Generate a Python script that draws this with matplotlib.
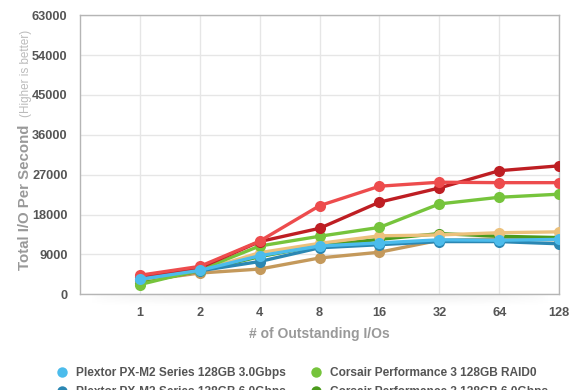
import matplotlib
matplotlib.use("Agg")
from matplotlib import pyplot as plt
import numpy as np

plt.rcParams['font.family'] = ['Liberation Sans', 'DejaVu Sans']

queue_depths = ['1', '2', '4', '8', '16', '32', '64', '128']
y_ticks = [0, 9000, 18000, 27000, 36000, 45000, 54000, 63000]

# IOPS
tan_dark = [3000, 4800, 5700, 8200, 9500, 12200, 12500, 12300]
green_dark = [2600, 5300, 8500, 11000, 12400, 13700, 13100, 12800]
tan_light = [3300, 5300, 9400, 11500, 13200, 13400, 13900, 14100]
plextor_6g = [3500, 5300, 7400, 10500, 11200, 11900, 11900, 11400]
corsair_raid0 = [2200, 5500, 10900, 13100, 15100, 20400, 21900, 22600]
red_dark = [3900, 6000, 11900, 14900, 20800, 24000, 27900, 29000]
red_light = [4300, 6300, 12000, 20000, 24400, 25300, 25200, 25200]
plextor_3g = [3400, 5400, 8700, 10900, 11600, 12300, 12200, 12400]

series = [
    (tan_dark, '#c4995b', None),
    (green_dark, '#4b9b1c', 'Corsair Performance 3 128GB 6.0Gbps'),
    (tan_light, '#ecc17c', None),
    (plextor_6g, '#2b87b3', 'Plextor PX-M2 Series 128GB 6.0Gbps'),
    (corsair_raid0, '#76c43c', 'Corsair Performance 3 128GB RAID0'),
    (red_dark, '#be1e23', None),
    (red_light, '#ed4c4d', None),
    (plextor_3g, '#4cbcec', 'Plextor PX-M2 Series 128GB 3.0Gbps'),
]

fig = plt.figure(figsize=(5.8, 3.9), dpi=100)

# faint shadow under the plot area
sh = fig.add_axes([90 / 580, 1 - 306 / 390, 460 / 580, 11 / 390])
gy = np.linspace(1, 0, 20)[:, None]
gx = np.sin(np.linspace(0, np.pi, 100))[None, :] ** 0.5
sh.imshow(1 - 0.07 * gy * gx, cmap='gray', vmin=0, vmax=1, aspect='auto')
sh.axis('off')

ax = fig.add_axes([0.138, 0.2454, 0.826, 0.7156])

x = np.arange(len(queue_depths))
handles = {}
for vals, col, name in series:
    ln, = ax.plot(x, vals, color=col, lw=2.4, marker='o', ms=8,
                  markeredgewidth=0, solid_capstyle='round', zorder=3)
    if name:
        handles[name] = ln

ax.set_xlim(-1, 7)
ax.set_ylim(0, 63000)
ax.set_xticks(x)
ax.set_xticklabels(queue_depths)
ax.set_yticks(y_ticks)
ax.set_yticklabels([str(t) for t in y_ticks])
ax.grid(True, color='#e6e6e6', lw=1)
ax.set_axisbelow(True)
ax.tick_params(length=0, labelsize=9.2, labelcolor='#555555')
ax.tick_params(axis='y', pad=9)
ax.tick_params(axis='x', pad=9)
for lab in ax.get_xticklabels() + ax.get_yticklabels():
    lab.set_fontweight('bold')
for s in ax.spines.values():
    s.set_color('#b5b5b5')
    s.set_linewidth(1)

ax.set_xlabel('# of Outstanding I/Os', fontsize=10, color='#999999',
              fontweight='bold', labelpad=6)

fig.text(25 / 580, 1 - 270 / 390, 'Total I/O Per Second', rotation=90,
         ha='center', va='bottom', fontsize=10.8, color='#999999', fontweight='bold')
fig.text(26 / 580, 1 - 30 / 390, '(Higher is better)', rotation=90,
         ha='center', va='top', fontsize=8.4, color='#bbbbbb')

order = ['Plextor PX-M2 Series 128GB 3.0Gbps', 'Plextor PX-M2 Series 128GB 6.0Gbps',
         'Corsair Performance 3 128GB RAID0', 'Corsair Performance 3 128GB 6.0Gbps']
leg_handles = [plt.Line2D([], [], ls='', marker='o', ms=7.5, markeredgewidth=0,
                          color=handles[n].get_color()) for n in order]
leg = fig.legend(leg_handles, order, loc='upper left', ncol=2,
                 bbox_to_anchor=(50 / 580, 1 - 362 / 390), frameon=False,
                 fontsize=8.6, handletextpad=0.6, columnspacing=1.9,
                 labelspacing=0.6, handlelength=1.2, borderaxespad=0)
for t in leg.get_texts():
    t.set_color('#555555')
    t.set_fontweight('bold')

fig.savefig('out.png', dpi=100)
